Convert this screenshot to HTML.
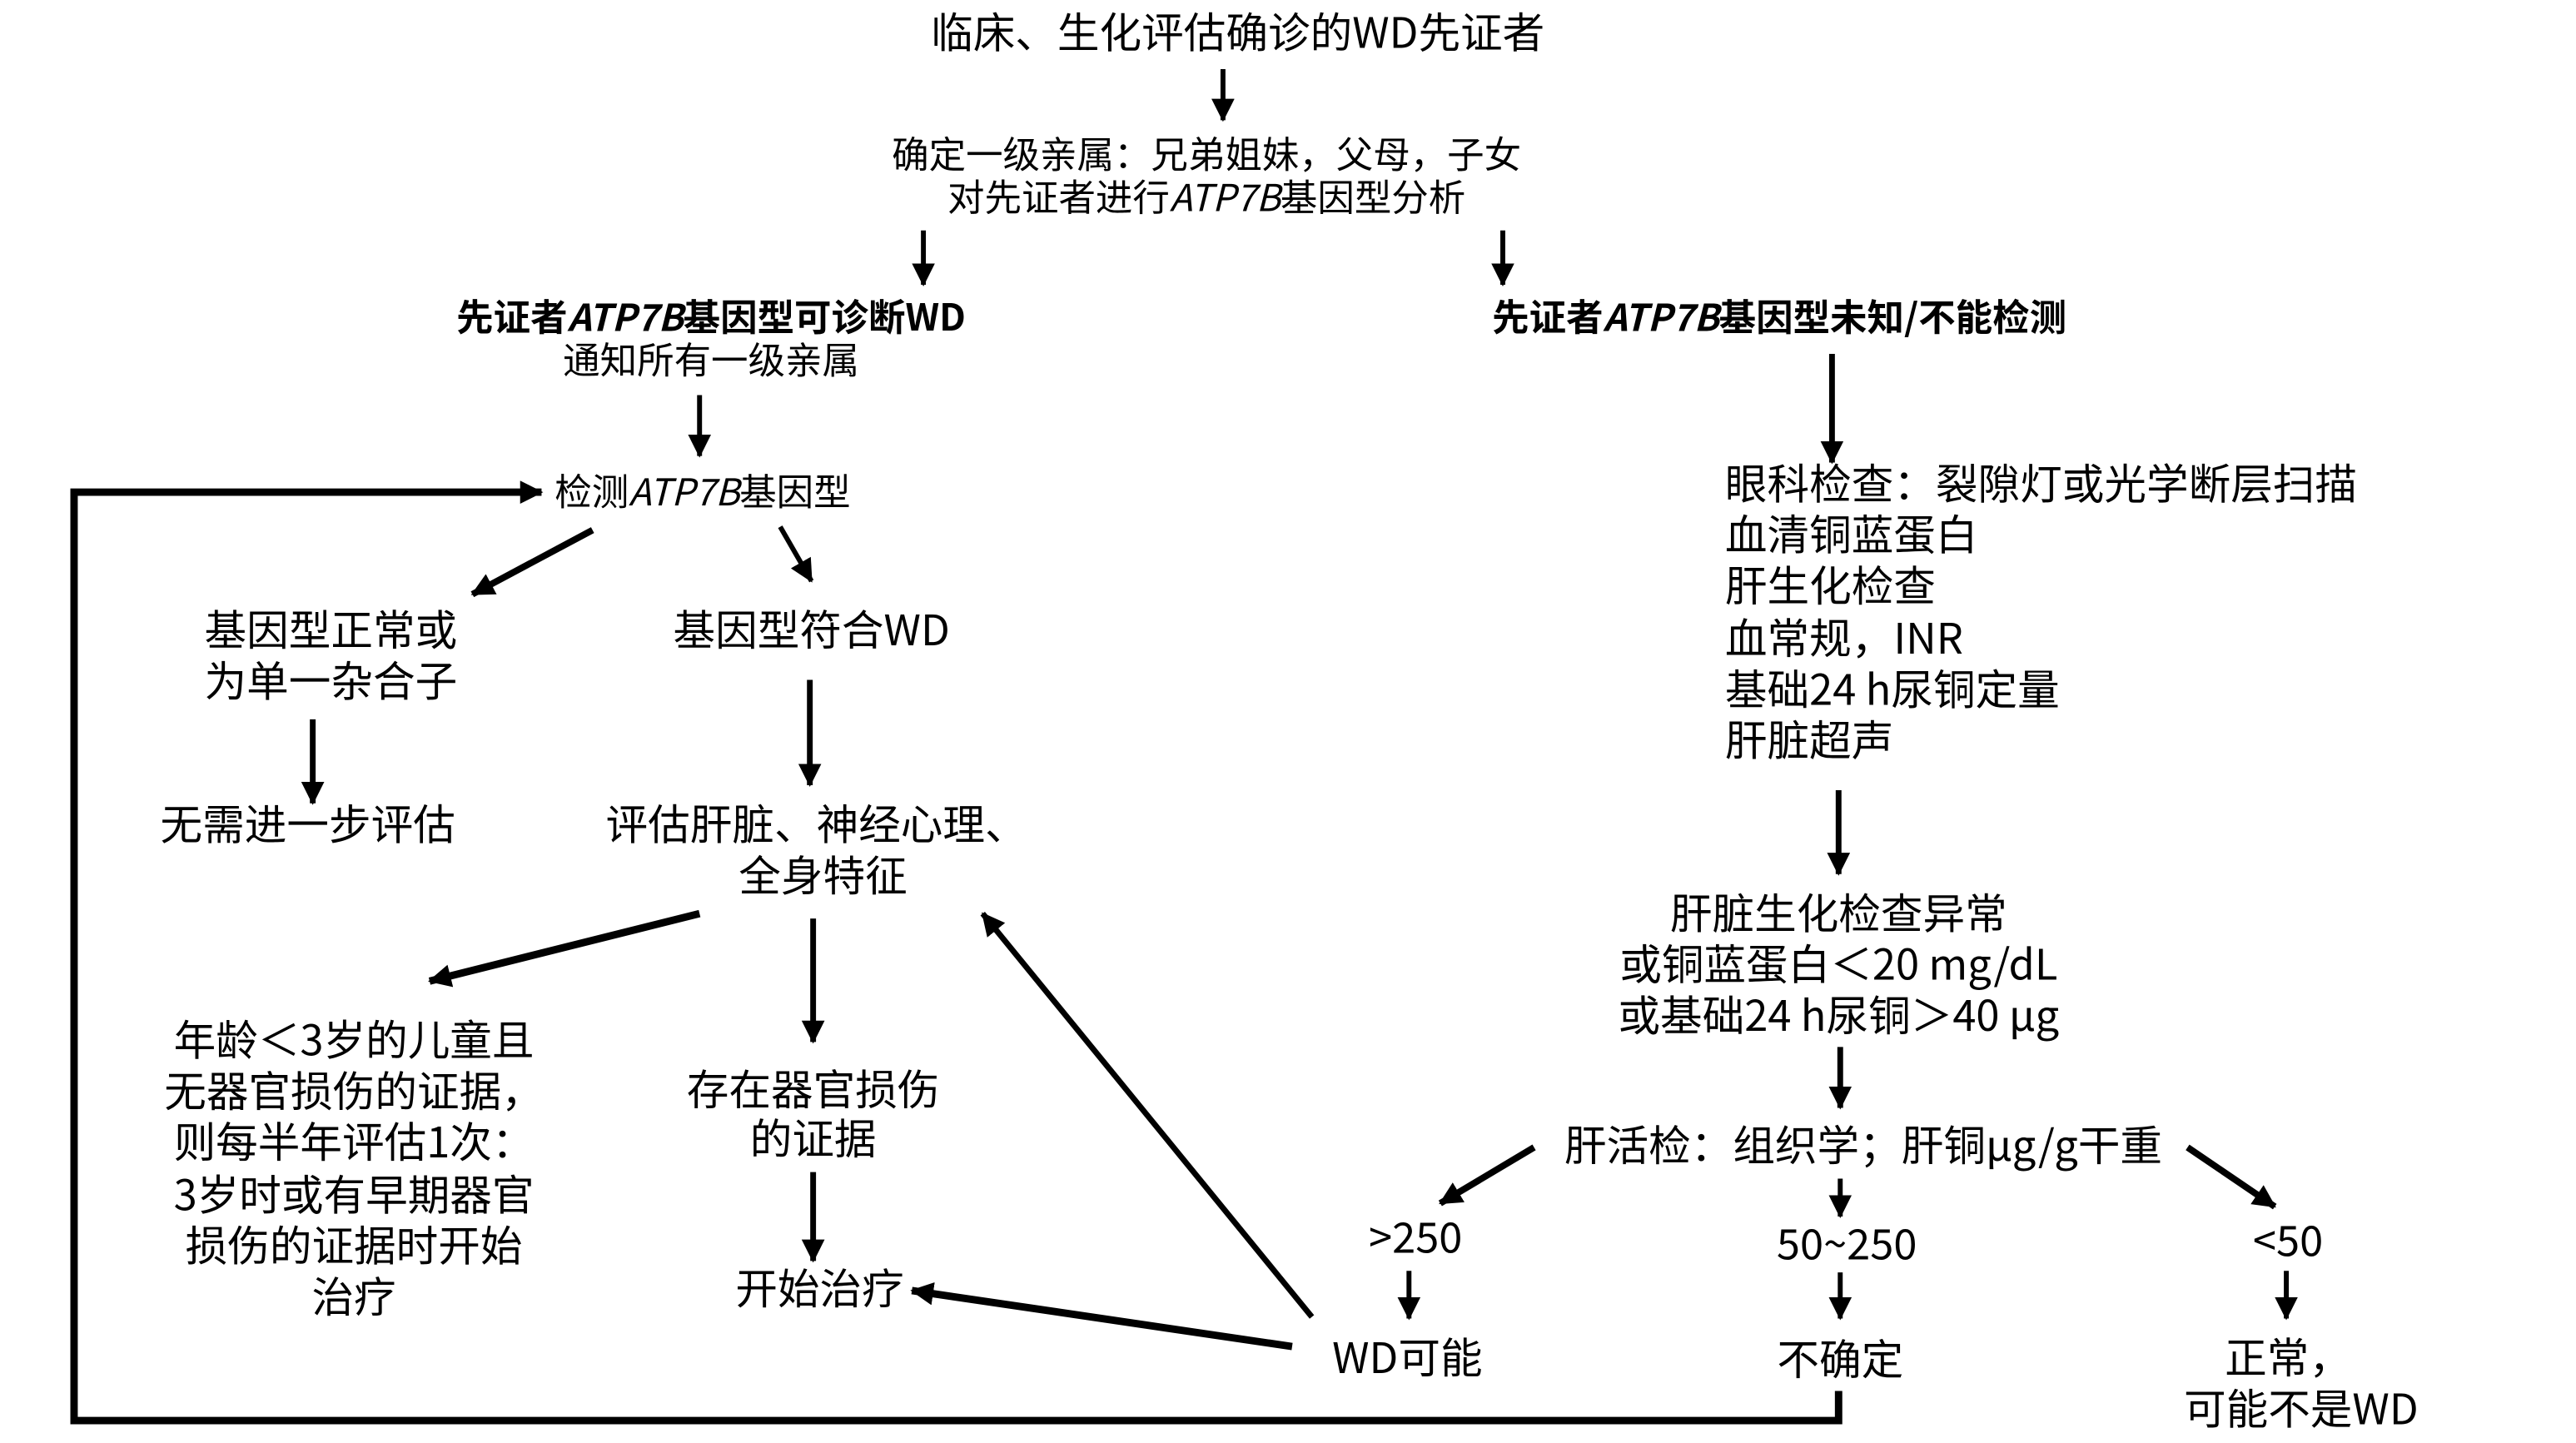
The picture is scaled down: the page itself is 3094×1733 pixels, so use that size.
<!DOCTYPE html>
<html><head><meta charset="utf-8"><style>
html,body{margin:0;padding:0;background:#fff;}
svg{display:block;}
text{font-family:"Noto Sans CJK SC","Liberation Sans",sans-serif;fill:#000;dominant-baseline:central;}
.m{text-anchor:middle;}
.s{font-size:22.5px;}
.l{font-size:25.6px;}
.b{font-weight:bold;}
</style></head><body>
<svg width="3094" height="1733" viewBox="0 0 1565 876.6" preserveAspectRatio="none" xmlns="http://www.w3.org/2000/svg">
<defs>
<marker id="a" markerUnits="userSpaceOnUse" markerWidth="16" markerHeight="16" refX="13" refY="7" orient="auto">
<path d="M0,0 L14,7 L0,14 z" fill="#000"/></marker>
</defs>
<g stroke="#000" stroke-width="3" fill="none" marker-end="url(#a)">
<line x1="743" y1="42" x2="743" y2="73"/>
<line x1="561" y1="140" x2="561" y2="173"/>
<line x1="913" y1="140" x2="913" y2="173"/>
<line x1="425" y1="240" x2="425" y2="277"/>
<line x1="360" y1="322" x2="287" y2="361" stroke-width="4"/>
<line x1="474" y1="320" x2="493" y2="353"/>
<line x1="190" y1="437" x2="190" y2="488" stroke-width="3.5"/>
<line x1="492" y1="413" x2="492" y2="477" stroke-width="3.5"/>
<line x1="425" y1="555" x2="261" y2="596" stroke-width="4.5"/>
<line x1="494" y1="558" x2="494" y2="633" stroke-width="3.5"/>
<line x1="797" y1="800" x2="597" y2="555" stroke-width="3.5"/>
<line x1="494" y1="712" x2="494" y2="766" stroke-width="3.5"/>
<line x1="785" y1="818" x2="554" y2="784" stroke-width="4.5"/>
<line x1="1113" y1="215" x2="1113" y2="281" stroke-width="3.5"/>
<line x1="1117" y1="480" x2="1117" y2="531" stroke-width="3.5"/>
<line x1="1118" y1="636" x2="1118" y2="673" stroke-width="3.5"/>
<line x1="932" y1="697" x2="875" y2="731" stroke-width="4"/>
<line x1="1118" y1="716" x2="1118" y2="739"/>
<line x1="1329" y1="697" x2="1382" y2="733" stroke-width="4"/>
<line x1="856" y1="772" x2="856" y2="801"/>
<line x1="1118" y1="773" x2="1118" y2="801"/>
<line x1="1389" y1="772" x2="1389" y2="801"/>
<polyline points="1117,845 1117,863 45,863 45,299 329,299" stroke-width="4.5"/>
</g>
<g transform="translate(0,-2)">
<text class="m l" x="752" y="20">临床、生化评估确诊的WD先证者</text>
<text class="m s" x="733" y="94">确定一级亲属：兄弟姐妹，父母，子女</text>
<text class="m s" x="733" y="120">对先证者进行<tspan font-style="italic">ATP7B</tspan>基因型分析</text>
<text class="m s b" x="432" y="193">先证者<tspan font-style="italic">ATP7B</tspan>基因型可诊断WD</text>
<text class="m s" x="432" y="219">通知所有一级亲属</text>
<text class="m s b" x="1081" y="193">先证者<tspan font-style="italic">ATP7B</tspan>基因型未知/不能检测</text>
<text class="s" x="337" y="299">检测<tspan font-style="italic">ATP7B</tspan>基因型</text>
<text class="m l" x="201" y="383">基因型正常或</text>
<text class="m l" x="201" y="414">为单一杂合子</text>
<text class="m l" x="493" y="383">基因型符合WD</text>
<text class="m l" x="187" y="501">无需进一步评估</text>
<text class="m l" x="496" y="501">评估肝脏、神经心理、</text>
<text class="m l" x="500" y="532">全身特征</text>
<text class="m l" x="215" y="632">年龄＜3岁的儿童且</text>
<text class="m l" x="215" y="663">无器官损伤的证据，</text>
<text class="m l" x="215" y="694">则每半年评估1次：</text>
<text class="m l" x="215" y="726">3岁时或有早期器官</text>
<text class="m l" x="215" y="757">损伤的证据时开始</text>
<text class="m l" x="215" y="788">治疗</text>
<text class="m l" x="494" y="662">存在器官损伤</text>
<text class="m l" x="494" y="692">的证据</text>
<text class="m l" x="498" y="783">开始治疗</text>
<text class="l" x="1048" y="294">眼科检查：裂隙灯或光学断层扫描</text>
<text class="l" x="1048" y="325">血清铜蓝蛋白</text>
<text class="l" x="1048" y="356">肝生化检查</text>
<text class="l" x="1048" y="388">血常规，INR</text>
<text class="l" x="1048" y="419">基础24 h尿铜定量</text>
<text class="l" x="1048" y="450">肝脏超声</text>
<text class="m l" x="1117" y="555">肝脏生化检查异常</text>
<text class="m l" x="1117" y="586">或铜蓝蛋白＜20 mg/dL</text>
<text class="m l" x="1117" y="617">或基础24 h尿铜＞40 μg</text>
<text class="m l" x="1132" y="696">肝活检：组织学；肝铜μg/g干重</text>
<text class="m l" x="860" y="752">&gt;250</text>
<text class="m l" x="1122" y="756">50~250</text>
<text class="m l" x="1390" y="754">&lt;50</text>
<text class="m l" x="855" y="825">WD可能</text>
<text class="m l" x="1118" y="826">不确定</text>
<text class="m l" x="1390" y="825">正常，</text>
<text class="m l" x="1398" y="856">可能不是WD</text>
</g>
</svg>
</body></html>
